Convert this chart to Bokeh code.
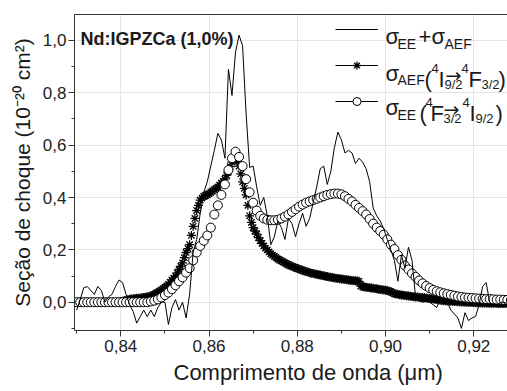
import math
from bokeh.plotting import figure
from bokeh.models import (Range1d, LinearAxis, SingleIntervalTicker, FixedTicker,
                          CustomJSTickFormatter, Label, Legend, LegendItem,
                          ColumnDataSource, Title)
from bokeh.embed import file_html
from bokeh.resources import INLINE

# ---------------- data ----------------
# wavelength grid (um) for sigma_EE + sigma_AEF and sigma_EE
wavelength = [
    0.8300, 0.8308, 0.8316, 0.8324, 0.8332, 0.8340, 0.8348, 0.8356, 0.8364, 0.8372,
    0.8380, 0.8388, 0.8396, 0.8404, 0.8412, 0.8420, 0.8428, 0.8436, 0.8444, 0.8452,
    0.8460, 0.8468, 0.8476, 0.8484, 0.8492, 0.8500, 0.8508, 0.8516, 0.8524, 0.8532,
    0.8540, 0.8548, 0.8556, 0.8564, 0.8572, 0.8580, 0.8588, 0.8596, 0.8604, 0.8612,
    0.8620, 0.8628, 0.8636, 0.8644, 0.8652, 0.8660, 0.8668, 0.8676, 0.8684, 0.8692,
    0.8700, 0.8708, 0.8716, 0.8724, 0.8732, 0.8740, 0.8748, 0.8756, 0.8764, 0.8772,
    0.8780, 0.8788, 0.8796, 0.8804, 0.8812, 0.8820, 0.8828, 0.8836, 0.8844, 0.8852,
    0.8860, 0.8868, 0.8876, 0.8884, 0.8892, 0.8900, 0.8908, 0.8916, 0.8924, 0.8932,
    0.8940, 0.8948, 0.8956, 0.8964, 0.8972, 0.8980, 0.8988, 0.8996, 0.9004, 0.9012,
    0.9020, 0.9028, 0.9036, 0.9044, 0.9052, 0.9060, 0.9068, 0.9076, 0.9084, 0.9092,
    0.9100, 0.9108, 0.9116, 0.9124, 0.9132, 0.9140, 0.9148, 0.9156, 0.9164, 0.9172,
    0.9180, 0.9188, 0.9196, 0.9204, 0.9212, 0.9220, 0.9228, 0.9236, 0.9244, 0.9252,
    0.9260, 0.9268, 0.9276, 0.9284,
]

sigma_sum = [
    -0.03, 0.01, 0.055, 0.06, 0.045, 0.03, 0.06, 0.045, 0.0, 0.02,
    0.03, 0.06, 0.085, 0.075, 0.03, -0.01, -0.035, -0.08, -0.055, -0.03,
    -0.055, -0.03, -0.055, -0.02, 0.0, 0.0, -0.085, -0.02, 0.01, -0.03,
    0.0, -0.06, 0.03, 0.19, 0.24, 0.34, 0.42, 0.46, 0.52, 0.58,
    0.645, 0.62, 0.55, 0.89, 0.79, 0.955, 1.02, 0.98, 0.72, 0.515,
    0.52, 0.44, 0.37, 0.40, 0.33, 0.22, 0.25, 0.31, 0.285, 0.24,
    0.32, 0.30, 0.25, 0.30, 0.34, 0.29, 0.32, 0.38, 0.44, 0.51,
    0.52, 0.45, 0.50, 0.59, 0.65, 0.62, 0.57, 0.58, 0.57, 0.53,
    0.55, 0.535, 0.51, 0.46, 0.36, 0.33, 0.31, 0.28, 0.24, 0.20,
    0.16, 0.08, 0.18, 0.13, 0.21, 0.16, 0.02, 0.005, 0.0, 0.005,
    0.0, -0.01, -0.02, 0.01, 0.0, 0.0, -0.03, -0.045, -0.06, -0.10,
    -0.04, -0.07, -0.06, -0.055, -0.01, 0.06, 0.075, 0.0, -0.01, -0.015,
    0.0, 0.0, -0.005, 0.0,
]

sigma_ee = [
    0.0, 0.0, 0.0, 0.0, 0.0, 0.0, 0.0, 0.0, 0.0, 0.0,
    0.0, 0.0, 0.0, 0.0, 0.0, 0.0, 0.0, 0.0, 0.0, 0.0,
    0.0, 0.003, 0.006, 0.011, 0.018, 0.027, 0.037, 0.05, 0.065, 0.08,
    0.095, 0.113, 0.13, 0.16, 0.19, 0.215, 0.235, 0.255, 0.285, 0.335,
    0.37, 0.41, 0.45, 0.505, 0.55, 0.575, 0.555, 0.52, 0.47, 0.42,
    0.38, 0.35, 0.33, 0.32, 0.315, 0.313, 0.313, 0.315, 0.32, 0.327,
    0.335, 0.345, 0.355, 0.365, 0.373, 0.38, 0.385, 0.39, 0.395, 0.40,
    0.405, 0.41, 0.413, 0.415, 0.415, 0.412, 0.405, 0.395, 0.385, 0.372,
    0.36, 0.348, 0.335, 0.318, 0.30, 0.285, 0.272, 0.258, 0.24, 0.22,
    0.203, 0.18, 0.162, 0.14, 0.125, 0.11, 0.097, 0.083, 0.072, 0.062,
    0.054, 0.047, 0.042, 0.038, 0.034, 0.031, 0.028, 0.025, 0.022, 0.02,
    0.018, 0.017, 0.016, 0.015, 0.014, 0.013, 0.012, 0.012, 0.011, 0.01,
    0.01, 0.009, 0.009, 0.008,
]

# denser wavelength grid (um) for sigma_AEF (the star series is sampled finer)
wavelength_aef = [
    0.8300, 0.8304, 0.8308, 0.8312, 0.8316, 0.8320, 0.8324, 0.8328, 0.8332, 0.8336,
    0.8340, 0.8344, 0.8348, 0.8352, 0.8356, 0.8360, 0.8364, 0.8368, 0.8372, 0.8376,
    0.8380, 0.8384, 0.8388, 0.8392, 0.8396, 0.8400, 0.8404, 0.8408, 0.8412, 0.8416,
    0.8420, 0.8424, 0.8428, 0.8432, 0.8436, 0.8440, 0.8444, 0.8448, 0.8452, 0.8456,
    0.8460, 0.8464, 0.8468, 0.8472, 0.8476, 0.8480, 0.8484, 0.8488, 0.8492, 0.8496,
    0.8500, 0.8504, 0.8508, 0.8512, 0.8516, 0.8520, 0.8524, 0.8528, 0.8532, 0.8536,
    0.8540, 0.8544, 0.8548, 0.8552, 0.8556, 0.8560, 0.8564, 0.8568, 0.8572, 0.8576,
    0.8580, 0.8584, 0.8588, 0.8592, 0.8596, 0.8600, 0.8604, 0.8608, 0.8612, 0.8616,
    0.8620, 0.8624, 0.8628, 0.8632, 0.8636, 0.8640, 0.8644, 0.8648, 0.8652, 0.8656,
    0.8660, 0.8664, 0.8668, 0.8672, 0.8676, 0.8680, 0.8684, 0.8688, 0.8692, 0.8696,
    0.8700, 0.8704, 0.8708, 0.8712, 0.8716, 0.8720, 0.8724, 0.8728, 0.8732, 0.8736,
    0.8740, 0.8744, 0.8748, 0.8752, 0.8756, 0.8760, 0.8764, 0.8768, 0.8772, 0.8776,
    0.8780, 0.8784, 0.8788, 0.8792, 0.8796, 0.8800, 0.8804, 0.8808, 0.8812, 0.8816,
    0.8820, 0.8824, 0.8828, 0.8832, 0.8836, 0.8840, 0.8844, 0.8848, 0.8852, 0.8856,
    0.8860, 0.8864, 0.8868, 0.8872, 0.8876, 0.8880, 0.8884, 0.8888, 0.8892, 0.8896,
    0.8900, 0.8904, 0.8908, 0.8912, 0.8916, 0.8920, 0.8924, 0.8928, 0.8932, 0.8936,
    0.8940, 0.8944, 0.8948, 0.8952, 0.8956, 0.8960, 0.8964, 0.8968, 0.8972, 0.8976,
    0.8980, 0.8984, 0.8988, 0.8992, 0.8996, 0.9000, 0.9004, 0.9008, 0.9012, 0.9016,
    0.9020, 0.9024, 0.9028, 0.9032, 0.9036, 0.9040, 0.9044, 0.9048, 0.9052, 0.9056,
    0.9060, 0.9064, 0.9068, 0.9072, 0.9076, 0.9080, 0.9084, 0.9088, 0.9092, 0.9096,
    0.9100, 0.9104, 0.9108, 0.9112, 0.9116, 0.9120, 0.9124, 0.9128, 0.9132, 0.9136,
    0.9140, 0.9144, 0.9148, 0.9152, 0.9156, 0.9160, 0.9164, 0.9168, 0.9172, 0.9176,
    0.9180, 0.9184, 0.9188, 0.9192, 0.9196, 0.9200, 0.9204, 0.9208, 0.9212, 0.9216,
    0.9220, 0.9224, 0.9228, 0.9232, 0.9236, 0.9240, 0.9244, 0.9248, 0.9252, 0.9256,
    0.9260, 0.9264, 0.9268, 0.9272, 0.9276, 0.9280, 0.9284,
]

sigma_aef = [
    0.0, 0.0, 0.0, 0.0, 0.0, 0.0, 0.0, 0.0, 0.0, 0.0,
    0.0, 0.0, 0.0, 0.0, 0.0, 0.0, 0.0, 0.0, 0.0, 0.0,
    0.0, 0.0, 0.0, 0.0, 0.0, 0.002, 0.004, 0.006, 0.008, 0.0095,
    0.011, 0.012, 0.013, 0.014, 0.015, 0.0155, 0.016, 0.017, 0.018, 0.019,
    0.02, 0.022, 0.024, 0.027, 0.03, 0.034, 0.038, 0.042, 0.047, 0.052,
    0.057, 0.062, 0.068, 0.076, 0.085, 0.092, 0.10, 0.112, 0.125, 0.137,
    0.15, 0.17, 0.19, 0.205, 0.22, 0.255, 0.29, 0.32, 0.35, 0.37,
    0.39, 0.398, 0.405, 0.408, 0.41, 0.415, 0.42, 0.425, 0.43, 0.435,
    0.44, 0.447, 0.455, 0.462, 0.47, 0.485, 0.50, 0.518, 0.535, 0.545,
    0.55, 0.537, 0.52, 0.49, 0.46, 0.435, 0.41, 0.37, 0.33, 0.305,
    0.285, 0.272, 0.26, 0.247, 0.235, 0.225, 0.215, 0.207, 0.20, 0.192,
    0.185, 0.18, 0.175, 0.17, 0.165, 0.161, 0.158, 0.154, 0.15, 0.146,
    0.143, 0.14, 0.137, 0.134, 0.132, 0.129, 0.127, 0.124, 0.122, 0.119,
    0.117, 0.115, 0.113, 0.111, 0.11, 0.108, 0.107, 0.105, 0.104, 0.102,
    0.101, 0.099, 0.098, 0.096, 0.095, 0.094, 0.093, 0.092, 0.091, 0.09,
    0.089, 0.088, 0.087, 0.086, 0.085, 0.084, 0.083, 0.082, 0.082, 0.081,
    0.08, 0.062, 0.06, 0.058, 0.057, 0.056, 0.055, 0.054, 0.053, 0.052,
    0.051, 0.05, 0.049, 0.048, 0.047, 0.046, 0.045, 0.042, 0.04, 0.036,
    0.033, 0.031, 0.03, 0.029, 0.028, 0.027, 0.026, 0.025, 0.024, 0.023,
    0.022, 0.021, 0.02, 0.0195, 0.019, 0.0185, 0.018, 0.017, 0.016, 0.015,
    0.014, 0.013, 0.012, 0.011, 0.01, 0.009, 0.008, 0.007, 0.006, 0.0055,
    0.005, 0.0045, 0.004, 0.0035, 0.003, 0.0025, 0.002, 0.0015, 0.001, 0.0005,
    0.0, 0.0, 0.0, -0.0005, -0.001, -0.0015, -0.002, -0.002, -0.002, -0.0025,
    -0.003, -0.003, -0.003, -0.0035, -0.004, -0.004, -0.004, -0.004, -0.004, -0.0045,
    -0.005, -0.005, -0.005, -0.005, -0.005, -0.005, -0.005,
]

FONT = "Liberation Sans"
INK = "#1a1a1a"
AX = "#333333"

p = figure(width=507, height=391, output_backend="svg", toolbar_location=None,
           x_range=Range1d(0.82951, 0.92764), y_range=Range1d(-0.108, 1.099),
           x_axis_location=None, y_axis_location=None,
           min_border_left=74, min_border_right=0, min_border_top=14, min_border_bottom=61)
p.outline_line_color = None
p.background_fill_color = "white"
p.border_fill_color = "white"

common = dict(major_tick_in=0, major_tick_out=6, minor_tick_in=0, minor_tick_out=3,
              axis_line_color=AX, major_tick_line_color=AX, minor_tick_line_color=AX,
              major_label_text_font=FONT, major_label_text_font_size="17px",
              major_label_text_color="#222222")

xaxis = LinearAxis(ticker=SingleIntervalTicker(interval=0.02, num_minor_ticks=2),
                   formatter=CustomJSTickFormatter(code="return tick.toFixed(2).replace('.', ',')"),
                   major_label_standoff=3, **common)
yaxis = LinearAxis(ticker=SingleIntervalTicker(interval=0.2, num_minor_ticks=2),
                   formatter=CustomJSTickFormatter(code="return tick.toFixed(1).replace('.', ',')"),
                   major_label_standoff=2,
                   axis_label="Seção de choque (10\u207b\u00b2\u2070 cm\u00b2)",
                   axis_label_text_font=FONT, axis_label_text_font_size="21px",
                   axis_label_text_font_style="normal", axis_label_text_color=INK,
                   axis_label_standoff=6, **common)
topaxis = LinearAxis(ticker=FixedTicker(ticks=[]), major_label_text_font_size="0px",
                     major_tick_out=0, minor_tick_out=0, major_label_standoff=0,
                     axis_line_color=AX)
p.add_layout(xaxis, "below")
p.add_layout(yaxis, "left")
p.add_layout(topaxis, "above")

xtitle = Title(text="Comprimento de onda (\u03bcm)", align="left", offset=99,
               text_font=FONT, text_font_size="22px", text_font_style="normal",
               text_color=INK, standoff=7)
p.add_layout(xtitle, "below")

src = ColumnDataSource(dict(wl=wavelength, s=sigma_sum, ee=sigma_ee))
src_aef = ColumnDataSource(dict(wl=wavelength_aef, aef=sigma_aef))

aef_r = p.scatter("wl", "aef", source=src_aef, marker="asterisk", size=9,
                  line_color="black", line_width=1.3)
ee_r = p.scatter("wl", "ee", source=src, marker="circle", size=9,
                 fill_color="white", line_color="black", line_width=1)
sum_r = p.line("wl", "s", source=src, line_color="black", line_width=1)

# line renderers without visible points, only used for the "—*—" / "—o—" legend samples
nan = float("nan")
d1 = p.line(x=[nan], y=[nan], line_color="black", line_width=1)
d2 = p.line(x=[nan], y=[nan], line_color="black", line_width=1)

legend = Legend(items=[LegendItem(label=" ", renderers=[sum_r]),
                       LegendItem(label=" ", renderers=[d1, aef_r]),
                       LegendItem(label=" ", renderers=[d2, ee_r])],
                location=(261, 219), orientation="vertical",
                glyph_width=43, glyph_height=20, spacing=16, padding=0, margin=0,
                label_standoff=0, label_width=0, label_height=0,
                label_text_font_size="1px",
                border_line_color=None, background_fill_alpha=0)
p.add_layout(legend)

FL, FB = 74, 330


def lab(text, px, py, size, bold=False, angle=0.0, font=FONT):
    p.add_layout(Label(x=px - FL, y=FB - py, x_units="screen", y_units="screen",
                       text=text, text_font=font, text_font_size=f"{size}px",
                       text_font_style="bold" if bold else "normal",
                       text_baseline="alphabetic", text_align="left",
                       angle=angle, text_color=INK))


# title inside the plot
lab("Nd:IGPZCa (1,0%)", 80, 38, 18, bold=True)

# legend texts
# row 1
lab("\u03c3", 385, 36, 22)
lab("EE", 397, 43, 14)
lab("+", 418, 36, 22)
lab("\u03c3", 431, 36, 22)
lab("AEF", 444, 43, 14)
# row 2
lab("\u03c3", 385, 73, 22)
lab("AEF", 397, 79, 14)
lab("(", 424, 79, 22)
lab("4", 431, 68, 13)
lab("I", 438, 79, 22)
lab("9/2", 444, 84, 13)
lab("\u2192", 445, 74, 19, font="DejaVu Sans")
lab("4", 461, 68, 13)
lab("F", 468, 79, 22)
lab("3/2", 481, 84, 13)
lab(")", 498, 79, 22)
# row 3
lab("\u03c3", 385, 107, 22)
lab("EE", 397, 114, 14)
lab("(", 419, 113, 22)
lab("4", 425, 102, 13)
lab("F", 430, 113, 22)
lab("3/2", 443, 118, 13)
lab("\u2192", 443, 108, 19, font="DejaVu Sans")
lab("4", 462, 102, 13)
lab("I", 469, 113, 22)
lab("9/2", 475, 118, 13)
lab(")", 495, 113, 22)

open("out.html", "w").write(file_html(p, INLINE))
